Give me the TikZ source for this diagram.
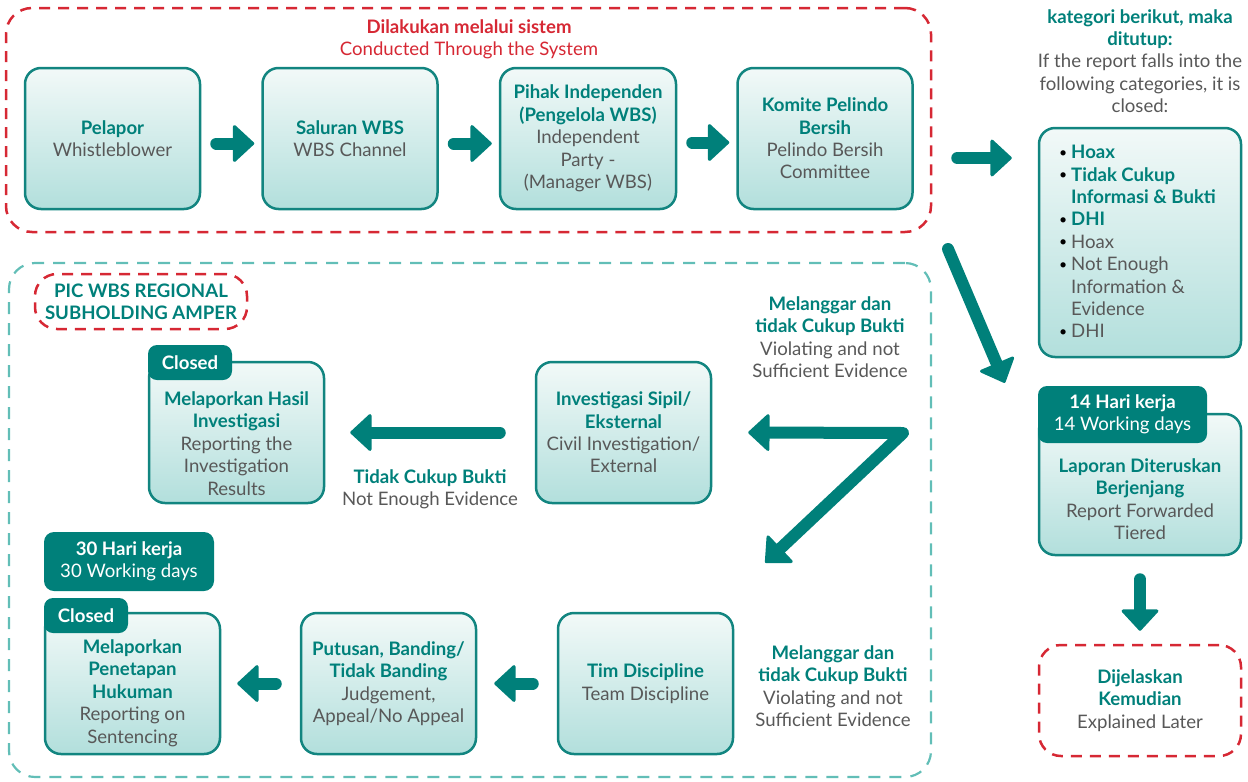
\documentclass[tikz,border=0pt]{standalone}
\usepackage{fontspec}
\setmainfont{Lato}
\usetikzlibrary{arrows.meta,calc}
\definecolor{tealD}{RGB}{0,128,122}
\definecolor{tealB}{RGB}{18,133,128}
\definecolor{tealL}{RGB}{98,190,183}
\definecolor{boxTop}{RGB}{242,249,248}
\definecolor{boxBot}{RGB}{178,223,220}
\definecolor{grayT}{RGB}{88,88,88}
\definecolor{redD}{RGB}{214,40,52}
\newcommand{\hdr}[1]{\textbf{\color{tealD}#1}}
\newcommand{\bul}{\makebox[13pt][l]{\hspace*{1pt}\raisebox{1.6pt}{\color{black}\fontsize{14}{14}\selectfont\textbullet}}}
\begin{document}
\begin{tikzpicture}[x=1pt,y=-1pt,
  every node/.style={font=\fontsize{18.6}{22.4}\selectfont, text=grayT, align=center, inner sep=0pt},
  box/.style={draw=tealB, line width=2.5pt, rounded corners=16pt, top color=boxTop, bottom color=boxBot, minimum width=175pt, minimum height=141pt},
  tab/.style={fill=tealD, rounded corners=9pt, text=white},
  fat/.style={draw=tealD, line width=12pt, line cap=round, line join=round, -{Triangle[width=40pt,length=22pt,line width=3pt,round]}},
  fatboth/.style={fat, {Triangle[width=40pt,length=22pt,line width=3pt,round]}-{Triangle[width=40pt,length=22pt,line width=3pt,round]}},
  reddash/.style={draw=redD, line width=2.5pt, dash pattern=on 11pt off 8pt},
  tealdash/.style={draw=tealL, line width=2.2pt, dash pattern=on 12pt off 9pt},
]
\useasboundingbox (0,0) rectangle (1248,782);

% frames
\node[reddash, rounded corners=26pt, minimum width=925pt, minimum height=224pt] (sysframe) at (468.5,120) {};
\node[tealdash, rounded corners=26pt, minimum width=922pt, minimum height=514pt] (procframe) at (470,520) {};
\node[text=redD] (systitle) at (469,39) {\textbf{Dilakukan melalui sistem}\\Conducted Through the System};

% top row
\node[box] (pelapor) at (112.5,138.5) {\hdr{Pelapor}\\Whistleblower};
\node[box] (saluran) at (350,138.5) {\hdr{Saluran WBS}\\WBS Channel};
\node[box, minimum width=176pt] (pihak) at (588,138.5) {\hdr{Pihak Independen}\\\hdr{(Pengelola WBS)}\\Independent\\Party -\\(Manager WBS)};
\node[box] (komite) at (825,138.5) {\hdr{Komite Pelindo}\\\hdr{Bersih}\\Pelindo Bersih\\Committee};

% right column
\node (cathead) at (1140,61) {\hdr{kategori berikut, maka}\\\hdr{ditutup:}\\If the report falls into the\\following categories, it is\\closed:};
\node[box, minimum width=202pt, minimum height=229pt] (list) at (1140,242.5) {};
\node[anchor=north west, align=left] (listtxt) at (1058,145) {%
\bul\hdr{Hoax}\\
\bul\hdr{Tidak Cukup}\\
\hspace*{13pt}\hdr{Informasi \& Bukti}\\
\bul\hdr{DHI}\\
\bul Hoax\\
\bul Not Enough\\
\hspace*{13pt}Information \&\\
\hspace*{13pt}Evidence\\
\bul DHI};

\node[box, minimum width=202pt, minimum height=141pt] (lapor) at (1140,484.5) {};
\node[tab, minimum width=169pt, minimum height=57pt] (tab14) at (1122.5,414.5) {\textbf{14 Hari kerja}\\14 Working days};
\node (laportxt) at (1140,499) {\hdr{Laporan Diteruskan}\\\hdr{Berjenjang}\\Report Forwarded\\Tiered};
\node[reddash, rounded corners=22pt, minimum width=202pt, minimum height=111pt] (dij) at (1140,700.5) {\hdr{Dijelaskan}\\\hdr{Kemudian}\\Explained Later};

% process area
\node[reddash, rounded corners=22pt, minimum width=212pt, minimum height=55pt] (pic) at (141,301.5) {\hdr{PIC WBS REGIONAL}\\\hdr{SUBHOLDING AMPER}};

\node[box] (hasil) at (236.5,432.5) {};
\node[tab, minimum width=84pt, minimum height=35pt] (closedA) at (190,362.5) {\textbf{Closed}};
\node (hasiltxt) at (236.5,443.5) {\hdr{Melaporkan Hasil}\\\hdr{Investigasi}\\Reporting the\\Investigation\\Results};

\node[box] (inv) at (623.5,432.5) {\hdr{Investigasi Sipil/}\\\hdr{Eksternal}\\Civil Investigation/\\External};

\node (lblA) at (830,337) {\hdr{Melanggar dan}\\\hdr{tidak Cukup Bukti}\\Violating and not\\Sufficient Evidence};
\node (lblB) at (430,489) {\hdr{Tidak Cukup Bukti}\\Not Enough Evidence};
\node (lblC) at (833,686) {\hdr{Melanggar dan}\\\hdr{tidak Cukup Bukti}\\Violating and not\\Sufficient Evidence};

\node[tab, rounded corners=10pt, minimum width=170pt, minimum height=59pt] (tab30) at (129,561.5) {\textbf{30 Hari kerja}\\30 Working days};
\node[box] (pen) at (132.5,683.5) {};
\node[tab, minimum width=84pt, minimum height=35pt] (closedB) at (86,615.5) {\textbf{Closed}};
\node (pentxt) at (132.5,693) {\hdr{Melaporkan}\\\hdr{Penetapan}\\\hdr{Hukuman}\\Reporting on\\Sentencing};
\node[box] (put) at (388.5,683.5) {\hdr{Putusan, Banding/}\\\hdr{Tidak Banding}\\Judgement,\\Appeal/No Appeal};
\node[box] (tim) at (645.5,683.5) {\hdr{Tim Discipline}\\Team Discipline};

% connectors
\draw[fat] ($(pelapor.east)+(15,5)$) -- ($(saluran.west)+(-7,5)$);
\draw[fat] ($(saluran.east)+(15,5)$) -- ($(pihak.west)+(-7,5)$);
\draw[fat] ($(pihak.east)+(15,4)$) -- ($(komite.west)+(-7,4)$);
\draw[fat] ($(komite.east)+(43.5,19.5)$) -- ($(list.west |- komite.east)+(-26,19.5)$);
\coordinate (d0) at (948,249);
\draw[fat] (d0) -- ($(tab14.north west)+(-33,-3)$);
\draw[fat] ($(lapor.south)+(0,23)$) -- ($(dij.north)+(0,-13)$);
\draw[fat] ($(inv.west)+(-35,0)$) -- ($(hasil.east)+(25,0)$);
\coordinate (c7) at (903,433);
\draw[fatboth] ($(inv.east)+(36,0)$) -- (c7) -- ($(tim.north east)+(31,-49)$);
\draw[fat] ($(tim.west)+(-24,0)$) -- ($(put.east)+(17,0)$);
\draw[fat] ($(put.west)+(-24,0)$) -- ($(pen.east)+(16,0)$);
\end{tikzpicture}
\end{document}
